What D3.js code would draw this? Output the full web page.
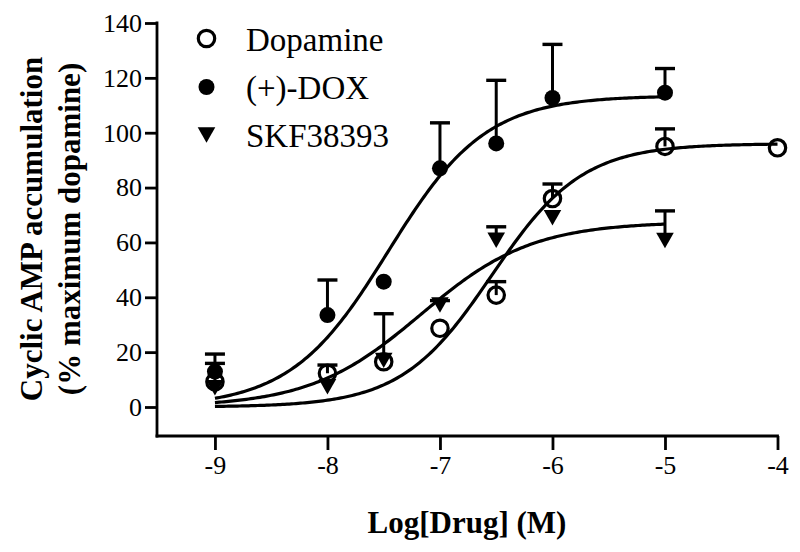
<!DOCTYPE html>
<html>
<head>
<meta charset="utf-8">
<script src="https://cdn.jsdelivr.net/npm/d3@7"></script>
<style>
  html, body { margin: 0; padding: 0; background: #fff; }
  svg { display: block; }
  text { font-family: "Liberation Serif", "Times New Roman", serif; fill: #000; }
</style>
</head>
<body>
<svg id="chart" width="800" height="552"></svg>
<script>
// ---- data ----
const seriesNames = ["Dopamine", "(+)-DOX", "SKF38393"];
const logDose = [-9, -8, -7.5, -7, -6.5, -6, -5, -4];

const dopamineMean = [9.2, 12.3, 16.5, 28.7, 40.8, 76, 95, 94.5];
const dopamineErr  = [6.7, 3.0, 0, 0, 4.9, 5.3, 6.4, 0];

const doxDose = [-9, -8, -7.5, -7, -6.5, -6, -5];
const doxMean = [12.9, 33.5, 45.7, 87, 96.1, 112.7, 114.6];
const doxErr  = [6.4, 12.8, 0, 16.6, 23, 19.5, 8.8];

const skfDose = [-9, -8, -7.5, -7, -6.5, -6, -5];
const skfMean = [7, 7.4, 17, 37.2, 60.8, 69, 60.7];
const skfErr  = [0, 0, 17, 1.6, 4.9, 0, 10.8];

// sigmoidal dose-response fits: [bottom, top, logEC50, hill, xStart, xEnd]
const dopamineFit = [0, 96, -6.54, 1.08, -9, -4];
const doxFit      = [0, 113.5, -7.46, 1.0, -9, -5];
const skfFit      = [0, 67.5, -7.17, 0.88, -9, -5];

const xTicks = [-9, -8, -7, -6, -5, -4];
const yTicks = [0, 20, 40, 60, 80, 100, 120, 140];

// ---- layout ----
const svg = d3.select("#chart");
const x = d3.scaleLinear().domain([-9.515, -4]).range([157, 777.5]);
const y = d3.scaleLinear().domain([0, 140]).range([407, 23]);
const yBottom = 436;

const ink = "#000";

// axes
const yAxis = d3.axisLeft(y).tickValues(yTicks).tickSize(12).tickPadding(3).tickFormat(d3.format("d"));
const gy = svg.append("g").attr("transform", "translate(157,0)").call(yAxis);
gy.select(".domain").remove();
gy.selectAll(".tick line").attr("stroke", ink).attr("stroke-width", 2.8);
gy.selectAll(".tick text").attr("font-size", 26).attr("font-family", "Liberation Serif, serif").attr("fill", ink);
svg.append("line").attr("x1", 157).attr("x2", 157).attr("y1", y(140) - 1.4).attr("y2", yBottom + 1.4)
  .attr("stroke", ink).attr("stroke-width", 2.8);

const xAxis = d3.axisBottom(x).tickValues(xTicks).tickSize(14).tickPadding(6).tickFormat(d => String(d).replace("\u2212", "-"));
const gx = svg.append("g").attr("transform", `translate(0,${yBottom})`).call(xAxis);
gx.select(".domain").remove();
gx.selectAll(".tick line").attr("stroke", ink).attr("stroke-width", 2.8);
gx.selectAll(".tick text").attr("font-size", 26).attr("font-family", "Liberation Serif, serif").attr("fill", ink);
svg.append("line").attr("x1", 157 - 1.4).attr("x2", x(-4) + 1.4).attr("y1", yBottom).attr("y2", yBottom)
  .attr("stroke", ink).attr("stroke-width", 2.8);

// axis titles
svg.append("text")
  .attr("transform", "translate(42,229) rotate(-90)")
  .attr("text-anchor", "middle").attr("font-size", 31).attr("font-weight", "bold")
  .text("Cyclic AMP accumulation");
svg.append("text")
  .attr("transform", "translate(80,229) rotate(-90)")
  .attr("text-anchor", "middle").attr("font-size", 31).attr("font-weight", "bold")
  .text("(% maximum dopamine)");
svg.append("text")
  .attr("x", 467).attr("y", 533)
  .attr("text-anchor", "middle").attr("font-size", 31).attr("font-weight", "bold")
  .text("Log[Drug] (M)");

// fit curves
function fitCurve(p) {
  const [b, t, ec, h, x0, x1] = p;
  const pts = d3.range(x0, x1 + 1e-9, 0.02).map(v => [v, b + (t - b) / (1 + Math.pow(10, (ec - v) * h))]);
  return d3.line().x(d => x(d[0])).y(d => y(d[1]))(pts);
}
const curves = svg.append("g").attr("fill", "none").attr("stroke", ink).attr("stroke-width", 3.2);
[dopamineFit, doxFit, skfFit].forEach(p => curves.append("path").attr("d", fitCurve(p)));

// error bars (upper only)
function errorBars(doses, means, errs) {
  const g = svg.append("g").attr("stroke", ink).attr("stroke-width", 3);
  doses.forEach((d, i) => {
    if (!errs[i]) return;
    const cx = x(d), y0 = y(means[i]), y1 = y(means[i] + errs[i]);
    g.append("line").attr("x1", cx).attr("x2", cx).attr("y1", y0).attr("y2", y1);
    g.append("line").attr("x1", cx - 10).attr("x2", cx + 10).attr("y1", y1).attr("y2", y1).attr("stroke-width", 3.4);
  });
}
errorBars(logDose, dopamineMean, dopamineErr);
errorBars(doxDose, doxMean, doxErr);
errorBars(skfDose, skfMean, skfErr);

// markers
const tri = (cx, cy, s) => `M${cx - s * 0.55},${cy - s * 0.48}L${cx + s * 0.55},${cy - s * 0.48}L${cx},${cy + s * 0.48}Z`;

svg.append("g").selectAll("path").data(skfDose.map((d, i) => [d, skfMean[i]])).join("path")
  .attr("d", d => tri(x(d[0]), y(d[1]), 16)).attr("fill", ink);
svg.append("g").selectAll("circle").data(doxDose.map((d, i) => [d, doxMean[i]])).join("circle")
  .attr("cx", d => x(d[0])).attr("cy", d => y(d[1])).attr("r", 8).attr("fill", ink);
svg.append("g").selectAll("circle").data(logDose.map((d, i) => [d, dopamineMean[i]])).join("circle")
  .attr("cx", d => x(d[0])).attr("cy", d => y(d[1])).attr("r", 8.2)
  .attr("fill", "#fff").attr("fill-opacity", 0).attr("stroke", ink).attr("stroke-width", 3.2);

// legend
const legend = svg.append("g");
const legRows = [38.5, 87, 135];
legend.append("circle").attr("cx", 206.5).attr("cy", legRows[0]).attr("r", 8.2)
  .attr("fill", "none").attr("stroke", ink).attr("stroke-width", 3.2);
legend.append("circle").attr("cx", 206.5).attr("cy", legRows[1]).attr("r", 8).attr("fill", ink);
legend.append("path").attr("d", tri(206.5, legRows[2], 16)).attr("fill", ink);
seriesNames.forEach((n, i) => {
  legend.append("text").attr("x", 246).attr("y", legRows[i] + 12).attr("font-size", 33).text(n);
});
</script>
</body>
</html>
